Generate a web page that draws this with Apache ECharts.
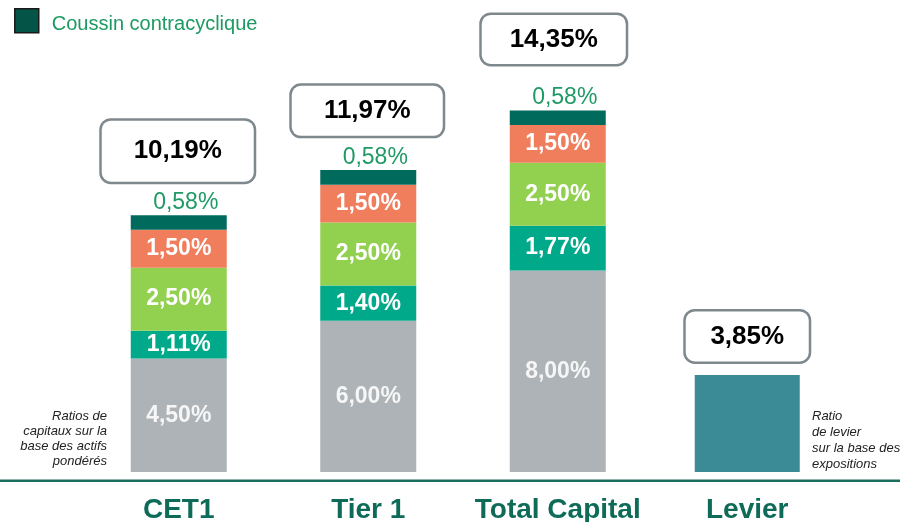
<!DOCTYPE html>
<html>
<head>
<meta charset="utf-8">
<script src="https://cdn.jsdelivr.net/npm/echarts@6/dist/echarts.min.js"></script>
<style>
html, body { margin: 0; padding: 0; background: #ffffff; }
#chart { width: 900px; height: 522px; }
</style>
</head>
<body>
<div id="chart"></div>
<script>
// Exigences de fonds propres (en % des actifs pondérés / des expositions)
const categories = ['CET1', 'Tier 1', 'Total Capital', 'Levier'];
const pilier1 = [4.50, 6.00, 8.00, null];
const pilier2 = [1.11, 1.40, 1.77, null];
const conservation = [2.50, 2.50, 2.50, null];
const systemique = [1.50, 1.50, 1.50, null];
const contracyclique = [0.58, 0.58, 0.58, null];
const levier = [null, null, null, 3.85];
const totals = [10.19, 11.97, 14.35, 3.85];

const FONT = '"Liberation Sans", Arial, Helvetica, sans-serif';
const fmt = v => v.toFixed(2).replace('.', ',') + '%';

// Geometry of the framed total boxes, one per column
const boxGeom = [
  { w: 157, h: 66, d: 33, dx: -1 },
  { w: 156, h: 55, d: 34, dx: -1 },
  { w: 149, h: 54, d: 46, dx: -4 },
  { w: 128, h: 55, d: 13, dx: 0 }
];

function segment(name, data, color, labelColor) {
  return {
    name: name,
    type: 'bar',
    stack: 'exigences',
    barWidth: 96,
    data: data,
    itemStyle: { color: color },
    label: {
      show: true,
      position: 'inside',
      formatter: p => fmt(p.value),
      color: labelColor || '#ffffff',
      fontFamily: FONT,
      fontWeight: 'bold',
      fontSize: 23
    },
    emphasis: { disabled: true }
  };
}

const series = [
  segment('Pilier 1', pilier1, '#adb3b6', '#f6f6f6'),
  segment('Pilier 2', pilier2, '#00a98a'),
  segment('Coussin de conservation', conservation, '#92d050'),
  segment('Coussin systémique', systemique, '#f07e5d'),
  {
    name: 'Coussin contracyclique',
    type: 'bar',
    stack: 'exigences',
    barWidth: 96,
    data: contracyclique,
    itemStyle: { color: '#006b5c' },
    label: {
      show: true,
      position: 'top',
      distance: 1,
      offset: [7, 0],
      formatter: p => fmt(p.value),
      color: '#1f9a66',
      fontFamily: FONT,
      fontSize: 23
    },
    emphasis: { disabled: true }
  },
  {
    name: 'Levier',
    type: 'bar',
    xAxisIndex: 1,
    barWidth: 105,
    data: levier,
    itemStyle: { color: '#3a8b96' },
    emphasis: { disabled: true }
  },
  {
    name: 'Total',
    type: 'scatter',
    symbolSize: 1,
    itemStyle: { color: 'rgba(0,0,0,0)', opacity: 1 },
    z: 10,
    data: totals.map((v, i) => ({
      value: v,
      label: {
        distance: boxGeom[i].d,
        offset: [boxGeom[i].dx, 0],
        width: boxGeom[i].w - 5,
        height: boxGeom[i].h - 5,
        lineHeight: boxGeom[i].h - 5
      }
    })),
    label: {
      show: true,
      position: 'top',
      formatter: p => fmt(p.value),
      align: 'center',
      color: '#000000',
      opacity: 1,
      fontFamily: FONT,
      fontWeight: 'bold',
      fontSize: 26,
      backgroundColor: '#ffffff',
      borderColor: '#7e888d',
      borderWidth: 2.5,
      borderRadius: 9
    },
    emphasis: { disabled: true }
  }
];

const chart = echarts.init(document.getElementById('chart'), null, { renderer: 'canvas' });

chart.setOption({
  animation: false,
  backgroundColor: '#ffffff',
  grid: {
    left: 84, right: 58, top: 68.8, bottom: 50,
    containLabel: false,
    outerBoundsMode: 'none'
  },
  legend: {
    data: [{
      name: 'Coussin contracyclique',
      icon: 'rect',
      itemStyle: { color: '#045548', borderColor: '#1a1a1a', borderWidth: 1.5 }
    }],
    left: 9,
    top: 3,
    itemWidth: 24,
    itemHeight: 24,
    selectedMode: false,
    formatter: name => '{t|' + name + '}',
    textStyle: {
      rich: {
        t: { color: '#1c9a62', fontFamily: FONT, fontSize: 20, padding: [7, 0, 0, 8] }
      }
    }
  },
  xAxis: [
    {
      type: 'category',
      data: categories,
      axisLine: { show: false },
      axisTick: { show: false },
      axisLabel: {
        margin: 24,
        color: '#0e6b58',
        fontFamily: FONT,
        fontWeight: 'bold',
        fontSize: 28,
        interval: 0
      }
    },
    {
      type: 'category',
      data: categories,
      show: false
    }
  ],
  yAxis: {
    type: 'value',
    min: 0,
    max: 16,
    show: false
  },
  graphic: [
    {
      type: 'rect',
      shape: { x: 0, y: 479.5, width: 900, height: 2.5 },
      style: { fill: '#1b6f5f' },
      z: 5
    },
    {
      type: 'text',
      x: 107,
      y: 408.5,
      style: {
        text: 'Ratios de\ncapitaux sur la\nbase des actifs\npondérés',
        font: 'italic 13px ' + FONT,
        fill: '#222222',
        lineHeight: 15.2,
        align: 'right'
      }
    },
    {
      type: 'text',
      x: 812,
      y: 408,
      style: {
        text: 'Ratio\nde levier\nsur la base des\nexpositions',
        font: 'italic 13px ' + FONT,
        fill: '#222222',
        lineHeight: 16,
        align: 'left'
      }
    }
  ],
  series: series
});
</script>
</body>
</html>
